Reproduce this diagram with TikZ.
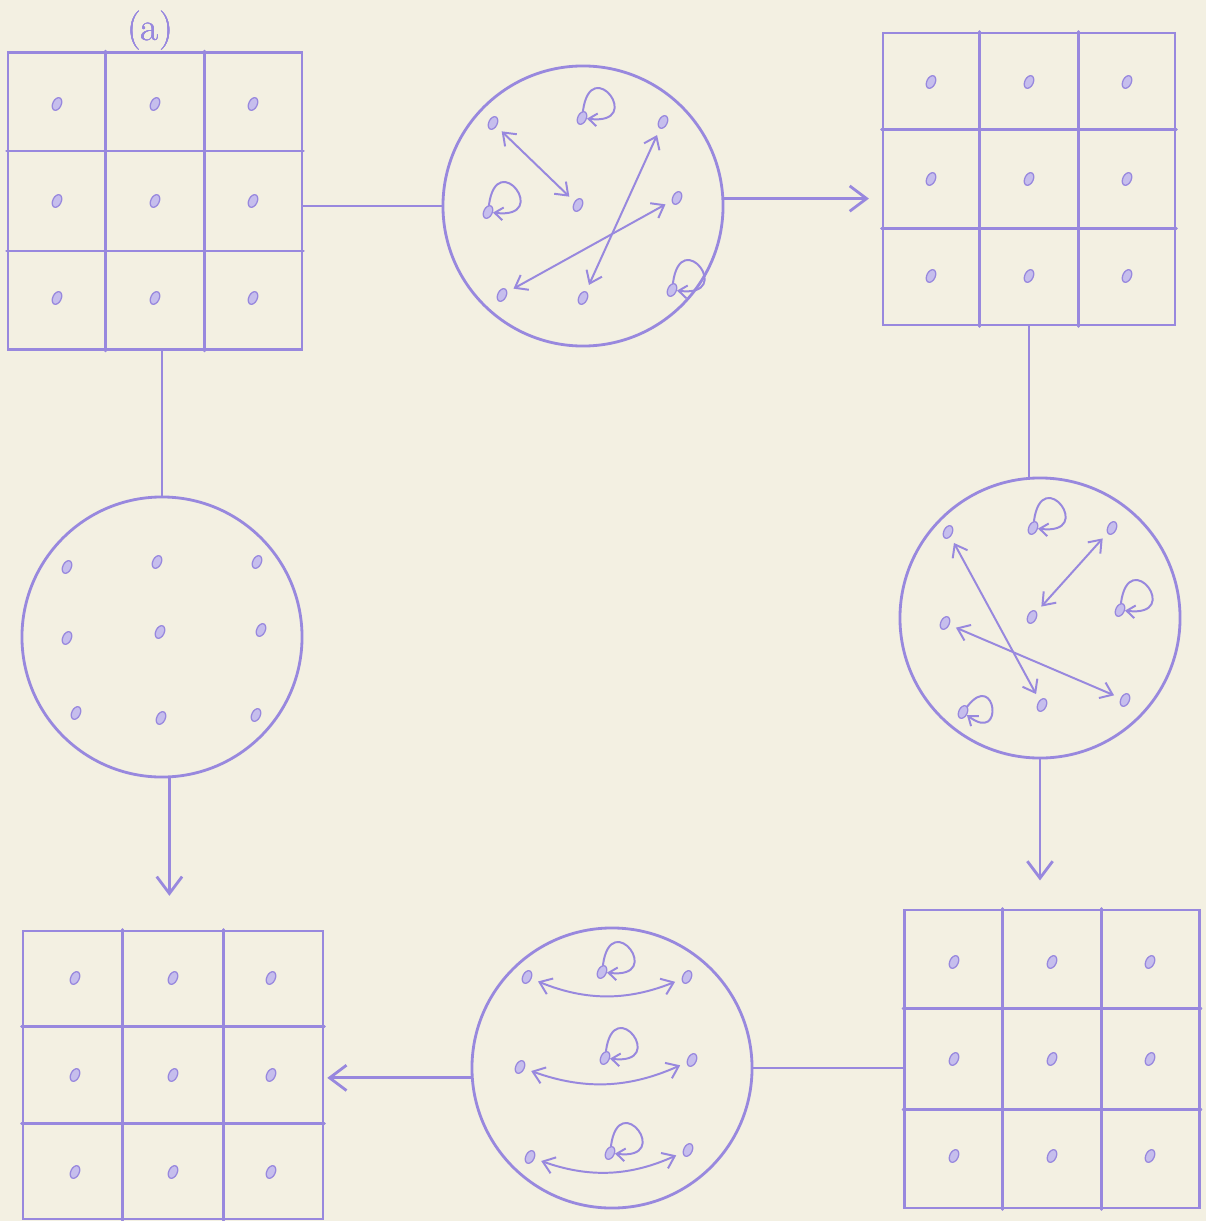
\documentclass[tikz,border=0pt]{standalone}
\usetikzlibrary{arrows.meta,shapes.geometric,positioning,calc}
\definecolor{ink}{RGB}{152,136,222}
\definecolor{paper}{RGB}{243,240,226}

% 3x3 cells and their centre dots inside a grid node
\newcommand{\cellgrid}[1]{%
  \foreach \k in {1,2} {
    \draw ($(#1.north west)!{\k/3}!(#1.north east)$) -- ($(#1.south west)!{\k/3}!(#1.south east)$);
    \draw ($(#1.north west)!{\k/3}!(#1.south west)$) -- ($(#1.north east)!{\k/3}!(#1.south east)$);
  }
  \foreach \i in {0,1,2} \foreach \j in {0,1,2}
    \node[spot] (#1\i\j) at ($(#1.center)+({(\i-1)*98},{(\j-1)*97})$) {};
}

\begin{document}
\begin{tikzpicture}[
    x=0.025cm, y=-0.025cm, ink, line width=2pt, line cap=round,
    cellbox/.style={draw, rectangle, inner sep=0pt},
    ring/.style={draw, circle, minimum size=7cm, inner sep=0pt},
    spot/.style={ellipse, draw, fill=ink!55, line width=0.9pt, rotate=-25,
                 minimum width=6pt, minimum height=9.5pt, inner sep=0pt},
    flow/.style={-{Straight Barb[length=12pt,width=18pt]}},
    xchg/.style={{Straight Barb[length=8pt,width=12pt]}-{Straight Barb[length=8pt,width=12pt]},
                 line width=1.4pt, shorten <=5pt, shorten >=5pt},
    selfloop/.style={-{Straight Barb[length=6pt,width=9pt]}, line width=1.4pt,
                     out=85, in=-5, min distance=1.5cm}]
  \fill[paper] (0,0) rectangle (1206,1221);
  \useasboundingbox (0,0) rectangle (1206,1221);

  %% Grids
  \node[cellbox, minimum width=7.35cm, minimum height=7.42cm] (g1) at (155,201) {};
  \node[cellbox, minimum width=7.3cm,  minimum height=7.3cm]  (g2) at (1029,179) {};
  \node[cellbox, minimum width=7.38cm, minimum height=7.45cm] (g3) at (1052,1059) {};
  \node[cellbox, minimum width=7.5cm,  minimum height=7.2cm]  (g4) at (173,1075) {};
  \foreach \g in {g1,g2,g3,g4} \cellgrid{\g}
  \node[font=\fontsize{28}{30}\selectfont] (tag) at (150,31) {(a)};

  %% Circle 1 (top)
  \node[ring] (c1) at (583,206) {};
  \node[spot] (c1a) at (493,123) {};
  \node[spot] (c1b) at (582,118) {};
  \node[spot] (c1c) at (663,122) {};
  \node[spot] (c1d) at (488,212) {};
  \node[spot] (c1e) at (578,205) {};
  \node[spot] (c1f) at (677,198) {};
  \node[spot] (c1g) at (502,295) {};
  \node[spot] (c1h) at (583,298) {};
  \node[spot] (c1i) at (672,290) {};
  \draw[xchg] (c1a) -- (c1e);
  \draw[xchg] (c1c) -- (c1h);
  \draw[xchg] (c1f) -- (c1g);
  \foreach \n in {c1b,c1d,c1i} \draw[selfloop] (\n) to (\n);

  %% Circle 2 (right)
  \node[ring] (c2) at (1040,618) {};
  \node[spot] (c2a) at (948,532) {};
  \node[spot] (c2b) at (1033,528) {};
  \node[spot] (c2c) at (1112,528) {};
  \node[spot] (c2d) at (945,623) {};
  \node[spot] (c2e) at (1032,617) {};
  \node[spot] (c2f) at (1120,610) {};
  \node[spot] (c2g) at (963,712) {};
  \node[spot] (c2h) at (1042,705) {};
  \node[spot] (c2i) at (1125,700) {};
  \draw[xchg] (c2a) -- (c2h);
  \draw[xchg] (c2c) -- (c2e);
  \draw[xchg] (c2d) -- (c2i);
  \foreach \n in {c2b,c2f} \draw[selfloop] (\n) to (\n);
  \draw[selfloop, out=55, in=-35, min distance=1.2cm] (c2g) to (c2g);

  %% Circle 3 (bottom)
  \node[ring] (c3) at (612,1068) {};
  \node[spot] (c3a) at (527,977) {};
  \node[spot] (c3b) at (602,972) {};
  \node[spot] (c3c) at (687,977) {};
  \node[spot] (c3d) at (520,1067) {};
  \node[spot] (c3e) at (605,1058) {};
  \node[spot] (c3f) at (692,1060) {};
  \node[spot] (c3g) at (530,1157) {};
  \node[spot] (c3h) at (610,1153) {};
  \node[spot] (c3i) at (688,1150) {};
  \foreach \a/\b in {c3a/c3c,c3d/c3f,c3g/c3i}
    \draw[xchg] (\a) to[bend right=22] (\b);
  \foreach \n in {c3b,c3e,c3h} \draw[selfloop] (\n) to (\n);

  %% Circle 4 (left)
  \node[ring] (c4) at (162,637) {};
  \node[spot] (c4a) at (67,567) {};
  \node[spot] (c4b) at (157,562) {};
  \node[spot] (c4c) at (257,562) {};
  \node[spot] (c4d) at (67,638) {};
  \node[spot] (c4e) at (160,632) {};
  \node[spot] (c4f) at (261,630) {};
  \node[spot] (c4g) at (76,713) {};
  \node[spot] (c4h) at (161,718) {};
  \node[spot] (c4i) at (256,715) {};

  %% Connectors
  \draw (g1.east |- c1.west) -- (c1.west);
  \draw[flow, shorten >=9pt] (c1.3) -- (c1.3 -| g2.west);
  \draw (g2.south) -- (g2.south |- c2.north);
  \draw[flow, shorten >=20pt] (c2.south) -- (c2.south |- g3.north);
  \draw (c3.east -| g3.west) -- (c3.east);
  \draw[flow, shorten >=2pt] (c3.184) -- (c3.184 -| g4.east);
  \draw (c4.north |- g1.south) -- (c4.north);
  \draw[flow, shorten >=24pt] (c4.-87) -- (c4.-87 |- g4.north);
\end{tikzpicture}
\end{document}
